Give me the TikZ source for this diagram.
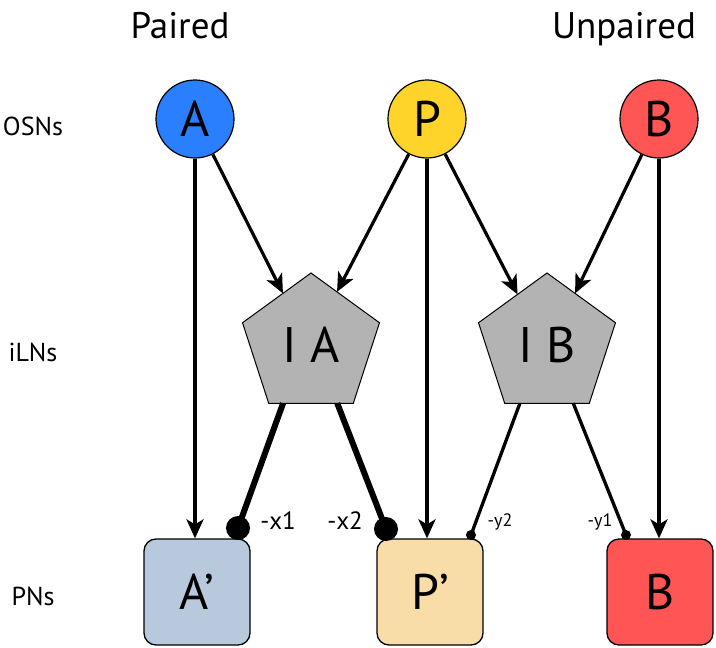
\documentclass[tikz,border=0pt]{standalone}
\usepackage{fontspec}
\setmainfont{PT Sans}
\usetikzlibrary{shapes.geometric,arrows.meta,calc}
\definecolor{cA}{RGB}{42,127,255}
\definecolor{cP}{RGB}{255,212,42}
\definecolor{cB}{RGB}{255,85,85}
\definecolor{cAp}{RGB}{185,201,221}
\definecolor{cPp}{RGB}{248,221,168}
\definecolor{cI}{RGB}{179,179,179}
\tikzset{
  osn/.style={circle,draw=black,line width=1.2pt,minimum size=78pt,inner sep=0pt,font=\fontsize{50}{50}\selectfont},
  pnbox/.style={rectangle,rounded corners=12pt,draw=black,line width=1.3pt,minimum size=106pt,inner sep=0pt,font=\fontsize{50}{50}\selectfont},
  iln/.style={regular polygon,regular polygon sides=5,draw=black,line width=1pt,fill=cI,minimum size=144pt,inner sep=0pt,outer sep=0pt,font=\fontsize{50}{50}\selectfont},
  arr/.style={line width=3.2pt,-{Stealth[length=19pt,width=17pt,inset=5pt]}},
  inhthick/.style={line width=6pt},
  inhthin/.style={line width=3.3pt},
  bigdot/.style={circle,fill=black,minimum size=24pt,inner sep=0pt},
  smalldot/.style={circle,fill=black,minimum size=10pt,inner sep=0pt},
  rowlab/.style={font=\fontsize{26}{26}\selectfont,anchor=base},
  collab/.style={font=\fontsize{37}{37}\selectfont,anchor=base},
  wlab/.style={font=\fontsize{25}{25}\selectfont},
  slab/.style={font=\fontsize{18}{18}\selectfont}
}
\begin{document}
\begin{tikzpicture}[x=1pt,y=-1pt]
\useasboundingbox (0,0) rectangle (716,648);
% column headers
\node[collab] (hp) at (180,38) {Paired};
\node[collab] (hu) at (624,38) {Unpaired};
% row labels
\node[rowlab] (losn) at (33,135) {OSNs};
\node[rowlab] (liln) at (33,361) {iLNs};
\node[rowlab] (lpn) at (33,605) {PNs};
% OSNs
\node[osn,fill=cA] (A) at (195,119) {A};
\node[osn,fill=cP] (P) at (427,119) {P};
\node[osn,fill=cB] (B) at (659,119) {B};
% iLNs
\node[iln] (IA) at (311,345) {I A};
\node[iln] (IB) at (547,345) {I B};
% PNs
\node[pnbox,fill=cAp] (Ap) at (197,592) {A’};
\node[pnbox,fill=cPp] (Pp) at (430,592) {P’};
\node[pnbox,fill=cB] (Bb) at (660,592) {B};
% arrow targets on pentagons
\coordinate (tA) at ($(IA.corner 1)!0.41!(IA.corner 2)$);
\coordinate (tPa) at ($(IA.corner 1)!0.38!(IA.corner 5)$);
\coordinate (tPb) at ($(IB.corner 1)!0.43!(IB.corner 2)$);
\coordinate (tB) at ($(IB.corner 1)!0.41!(IB.corner 5)$);
% excitatory arrows
\draw[arr] (A.south) -- (A.south |- Ap.north);
\draw[arr] (A) -- (tA);
\draw[arr] (P) -- (tPa);
\draw[arr] (P.south) -- (P.south |- Pp.north);
\draw[arr] (P) -- (tPb);
\draw[arr] (B) -- (tB);
\draw[arr] (B.south) -- (B.south |- Bb.north);
% inhibitory
\coordinate (ia1) at ($(IA.corner 3)!0.17!(IA.corner 4)$);
\coordinate (ia2) at ($(IA.corner 3)!0.81!(IA.corner 4)$);
\coordinate (ib1) at ($(IB.corner 3)!0.18!(IB.corner 4)$);
\coordinate (ib2) at ($(IB.corner 3)!0.81!(IB.corner 4)$);
\node[bigdot] (d1) at (238,528) {};
\node[bigdot] (d2) at (386,529) {};
\node[smalldot] (d3) at (471,535) {};
\node[smalldot] (d4) at (626,535) {};
\draw[inhthick] (ia1) -- (d1.center);
\draw[inhthick] (ia2) -- (d2.center);
\draw[inhthin] (ib1) -- (d3.center);
\draw[inhthin] (ib2) -- (d4.center);
% weight labels
\node[wlab] (w1) at (278,521) {-x1};
\node[wlab] (w2) at (345,521) {-x2};
\node[slab] (w3) at (500,522) {-y2};
\node[slab] (w4) at (600,522) {-y1};
\end{tikzpicture}
\end{document}
